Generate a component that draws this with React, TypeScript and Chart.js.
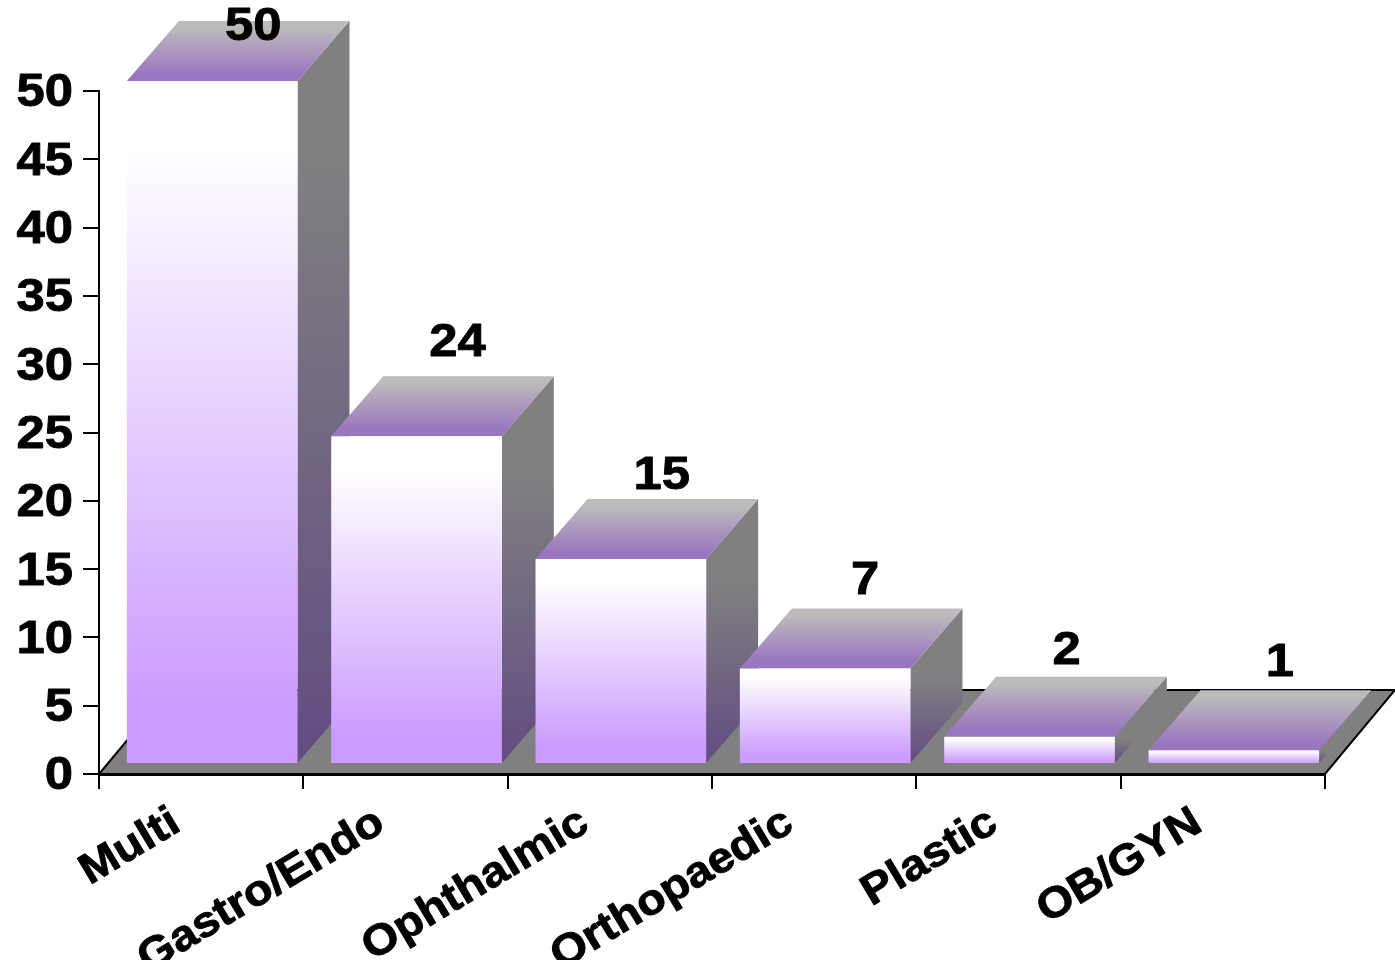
import React, { useEffect, useRef } from "react";
import { Chart, registerables } from "chart.js";

Chart.register(...registerables);

const categories = ["Multi", "Gastro/Endo", "Ophthalmic", "Orthopaedic", "Plastic", "OB/GYN"];
const cases = [50, 24, 15, 7, 2, 1];
const yMax = 50;
const yStep = 5;

// Fake-3D geometry and text tuning (pixels), not data
const FRONT_DX = 11;
const FRONT_DY = -10;
const BAR_DEPTH_X = 52;
const BAR_DEPTH_Y = -60;
const FLOOR_DEPTH_X = 70;
const FLOOR_DEPTH_Y = -84;
const LABEL_GAP = 29;
const LABEL_MIN_Y = 25;
const labelNudgeX = [1, 1, 1, 0, -3, 6];
const labelNudgeY = [0, -7, 3, -1, 1, -1];
const TEXT_STRETCH = 1.08;
const TEXT_DROP = 2.5;
const TEXT_WEIGHT = 0.9;
const FONT = "'Liberation Sans', Arial, sans-serif";

const threeD = {
  id: "threeD",
  beforeDraw(chart: any) {
    const { ctx, chartArea: a } = chart;
    ctx.save();
    ctx.beginPath();
    ctx.moveTo(a.left, a.bottom);
    ctx.lineTo(a.right, a.bottom);
    ctx.lineTo(a.right + FLOOR_DEPTH_X, a.bottom + FLOOR_DEPTH_Y);
    ctx.lineTo(a.left + FLOOR_DEPTH_X, a.bottom + FLOOR_DEPTH_Y);
    ctx.closePath();
    ctx.fillStyle = "#808080";
    ctx.fill();
    ctx.strokeStyle = "#000";
    ctx.lineWidth = 2;
    ctx.stroke();
    ctx.restore();
  },
  beforeDatasetDraw(chart: any) {
    const { ctx } = chart;
    const meta = chart.getDatasetMeta(0);
    ctx.save();
    ctx.translate(FRONT_DX, FRONT_DY);
    meta.data.forEach((bar: any) => {
      const left = bar.x - bar.width / 2;
      const right = bar.x + bar.width / 2;
      const top = bar.y;
      const base = bar.base;
      const side = ctx.createLinearGradient(0, top, 0, base);
      side.addColorStop(0, "#808080");
      side.addColorStop(0.1, "#808080");
      side.addColorStop(1, "#624c82");
      ctx.fillStyle = side;
      ctx.beginPath();
      ctx.moveTo(right, top);
      ctx.lineTo(right + BAR_DEPTH_X, top + BAR_DEPTH_Y);
      ctx.lineTo(right + BAR_DEPTH_X, base + BAR_DEPTH_Y);
      ctx.lineTo(right, base);
      ctx.closePath();
      ctx.fill();

      const lid = ctx.createLinearGradient(0, top + BAR_DEPTH_Y, 0, top);
      lid.addColorStop(0, "#bcbcbc");
      lid.addColorStop(0.1, "#bcbcbc");
      lid.addColorStop(0.9, "#9a75c0");
      ctx.fillStyle = lid;
      ctx.beginPath();
      ctx.moveTo(left, top);
      ctx.lineTo(right, top);
      ctx.lineTo(right + BAR_DEPTH_X, top + BAR_DEPTH_Y);
      ctx.lineTo(left + BAR_DEPTH_X, top + BAR_DEPTH_Y);
      ctx.closePath();
      ctx.fill();
    });
    ctx.restore();
    // the library's own bars become the front faces
    ctx.save();
    ctx.translate(FRONT_DX, FRONT_DY);
  },
  afterDatasetDraw(chart: any) {
    chart.ctx.restore();
  },
  afterDatasetsDraw(chart: any) {
    const { ctx } = chart;
    const meta = chart.getDatasetMeta(0);
    ctx.save();
    ctx.fillStyle = "#000";
    ctx.font = `bold 47px ${FONT}`;
    ctx.textAlign = "center";
    ctx.textBaseline = "middle";
    meta.data.forEach((bar: any, i: number) => {
      const x = bar.x + FRONT_DX + 40 + labelNudgeX[i];
      const y = Math.max(LABEL_MIN_Y, bar.y + FRONT_DY + BAR_DEPTH_Y - LABEL_GAP + labelNudgeY[i]);
      ctx.fillText(String(cases[i]), x, y);
    });
    ctx.restore();
  },
};

function stretchText(ctx: any) {
  const fill = ctx.fillText.bind(ctx);
  const stroke = ctx.strokeText.bind(ctx);
  ctx.fillText = (t: string, x: number, y: number) => {
    ctx.save();
    ctx.translate(x, y + TEXT_DROP);
    ctx.scale(TEXT_STRETCH, 1);
    ctx.lineJoin = "round";
    ctx.lineWidth = TEXT_WEIGHT;
    ctx.strokeStyle = ctx.fillStyle;
    stroke(t, 0, 0);
    fill(t, 0, 0);
    ctx.restore();
  };
}

export default function App() {
  const ref = useRef<HTMLCanvasElement>(null);
  useEffect(() => {
    document.body.style.margin = "0";
    const canvas = ref.current!;
    const c2d = canvas.getContext("2d")!;
    stretchText(c2d);
    const chart = new Chart(canvas, {
      type: "bar",
      data: {
        labels: categories,
        datasets: [
          {
            data: cases,
            clip: false,
            borderWidth: 0,
            barPercentage: 0.835,
            categoryPercentage: 1,
            backgroundColor: (ctx: any) => {
              const y = ctx.chart.scales.y;
              const top = y ? y.getPixelForValue(cases[ctx.dataIndex]) : NaN;
              const bottom = y ? y.getPixelForValue(0) : NaN;
              if (!Number.isFinite(top) || !Number.isFinite(bottom)) return "#cc99ff";
              const g = ctx.chart.ctx.createLinearGradient(0, top, 0, bottom);
              g.addColorStop(0, "#ffffff");
              g.addColorStop(0.1, "#ffffff");
              g.addColorStop(0.92, "#cb9bff");
              g.addColorStop(1, "#cb9bff");
              return g;
            },
          },
        ],
      },
      options: {
        responsive: false,
        animation: false,
        events: [],
        layout: { padding: { top: 91, right: 70, left: 0, bottom: 0 } },
        plugins: { legend: { display: false }, tooltip: { enabled: false }, title: { display: false } },
        scales: {
          x: {
            border: { color: "#000", width: 3 },
            grid: { drawOnChartArea: false, drawTicks: true, tickLength: 15, tickColor: "#000", lineWidth: 2, tickWidth: 2 },
            ticks: {
              autoSkip: false,
              minRotation: 31,
              maxRotation: 31,
              padding: 6,
              labelOffset: -26,
              color: "#000",
              font: { family: FONT, weight: "bold", size: 43 },
            },
            afterFit: (s: any) => {
              s.height = 186;
            },
          },
          y: {
            min: 0,
            max: yMax,
            border: { color: "#000", width: 2 },
            grid: { drawOnChartArea: false, drawTicks: true, tickLength: 16, tickColor: "#000", lineWidth: 2, tickWidth: 2 },
            ticks: {
              stepSize: yStep,
              padding: 10,
              color: "#000",
              font: { family: FONT, weight: "bold", size: 47 },
            },
            afterFit: (s: any) => {
              s.width = 99;
            },
          },
        },
      },
      plugins: [threeD],
    } as any);
    return () => chart.destroy();
  }, []);
  return (
    <canvas
      ref={ref}
      width={1395}
      height={960}
      style={{ display: "block", width: 1395, height: 960, position: "absolute", left: 0, top: 0 }}
    />
  );
}
